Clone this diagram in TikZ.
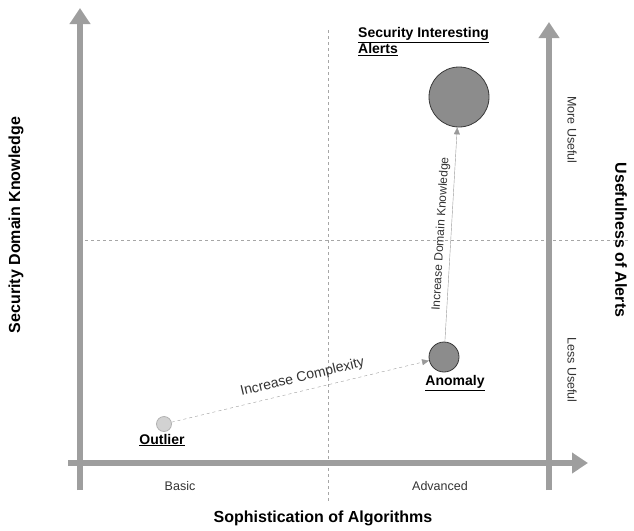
\documentclass[tikz,border=0pt]{standalone}
\usepackage{fontspec}
\setmainfont{Liberation Sans}
\usetikzlibrary{arrows.meta}
\definecolor{ax}{gray}{0.62}
\definecolor{bub}{gray}{0.55}
\tikzset{axis/.style={draw=ax,line width=6pt,-{Triangle[length=16pt,width=20pt]}},
 guide/.style={draw=gray!70,dashed,thin},
 bubble/.style={circle,draw=gray!45!black,fill=bub,line width=0.8pt,inner sep=0pt},
 lab/.style={font=\bfseries\fontsize{14}{16}\selectfont},
 thin lab/.style={font=\fontsize{12.5}{14}\selectfont,text=black!80},
 conn/.style={draw=gray!80,-{Triangle[length=7pt,width=6pt]}}}
\begin{document}
\begin{tikzpicture}[x=1pt,y=-1pt]
\useasboundingbox (0,0) rectangle (634,530);
\coordinate (lb) at (80,490); \coordinate (lt) at (80,8);
\coordinate (bl) at (68,463); \coordinate (br) at (588,463);
\coordinate (rb) at (549,490); \coordinate (rt) at (549,22);
\coordinate (vt) at (328,30); \coordinate (vb) at (328,502);
\coordinate (hl) at (85,240); \coordinate (hr) at (628,240);
\draw[guide] (vt) -- (vb);
\draw[guide] (hl) -- (hr);
\draw[axis] (lb) -- (lt);
\draw[axis] (bl) -- (br);
\draw[axis] (rb) -- (rt);
\node[bubble,minimum size=60pt] (sia) at (459,97) {};
\node[bubble,minimum size=30pt] (an) at (444,357) {};
\node[bubble,minimum size=15pt,fill=gray!35,draw=gray!60] (out) at (164,424) {};
\draw[conn,dashed] (out) -- node[sloped,above=3pt,thin lab,font=\fontsize{14}{16}\selectfont,pos=0.52]{Increase Complexity} (an);
\draw[conn] (an) -- node[sloped,above=1pt,thin lab,font=\fontsize{12}{14}\selectfont]{Increase Domain Knowledge} (sia);
\node[lab,align=left,anchor=north west,inner sep=1pt] (t1) at (357,26) {\underline{Security Interesting}\\\underline{Alerts}};
\node[lab] (t2) at (455,383) {\underline{Anomaly}};
\node[lab] (t3) at (162,440) {\underline{Outlier}};
\node[thin lab] (b1) at (180,486) {Basic};
\node[thin lab] (b2) at (440,486) {Advanced};
\node[lab,font=\bfseries\fontsize{16}{18}\selectfont] (xl) at (323,518) {Sophistication of Algorithms};
\node[lab,font=\bfseries\fontsize{16}{18}\selectfont,rotate=90] (yl) at (16,225) {Security Domain Knowledge};
\node[lab,font=\bfseries\fontsize{16}{18}\selectfont,rotate=-90] (yr) at (621,240) {Usefulness of Alerts};
\node[thin lab,rotate=-90] (m1) at (572,130) {More Useful};
\node[thin lab,rotate=-90] (m2) at (572,370) {Less Useful};
\end{tikzpicture}
\end{document}
